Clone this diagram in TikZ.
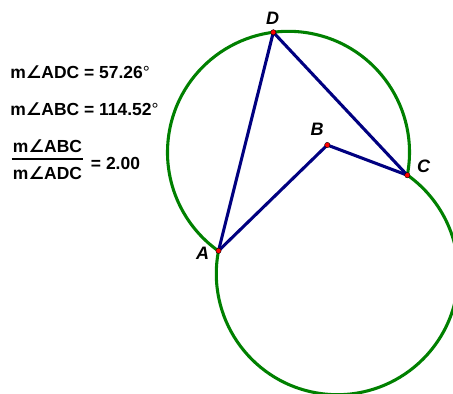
\documentclass[tikz,border=0pt]{standalone}
\usepackage{fontspec}
\setmainfont{Liberation Sans}
\newfontfamily\angfont{DejaVu Sans}
\newcommand{\mang}{m{\angfont\bfseries ∠}}
\definecolor{locusgreen}{RGB}{0,128,0}
\definecolor{segblue}{RGB}{0,0,128}
\begin{document}
\begin{tikzpicture}[
    x=0.75pt,y=0.75pt,
    locus/.style={draw=locusgreen,line width=2.3pt},
    seg/.style={draw=segblue,line width=2.3pt},
    vertex/.style={circle,fill=red,draw=black,line width=0.3pt,inner sep=0pt,minimum size=4pt},
    ptlabel/.style={font=\fontsize{13.5}{15}\selectfont\bfseries\itshape},
    measure/.style={anchor=base west,inner sep=0pt,font=\fontsize{13.1}{15}\selectfont\bfseries}
]
\useasboundingbox (0,0) rectangle (453,-393);

% points of the figure
\coordinate (A) at (218.5,-250.8);
\coordinate (B) at (327.3,-145.0);
\coordinate (C) at (407.3,-175.2);
\coordinate (D) at (273.3,-32.3);

% the two arcs through A and C
\begin{scope}
\clip (0,0) rectangle (453,-393);
\draw[locus] (C) arc[start angle=-10.9,end angle=234.6,radius=90.75pt];
\draw[locus] (A) arc[start angle=169.1,end angle=414.5,radius=90.75pt];
\end{scope}

\draw[seg] (A) -- (D);
\draw[seg] (D) -- (C);
\draw[seg] (A) -- (B);
\draw[seg] (B) -- (C);

\node[vertex] (dotA) at (A) {};
\node[vertex] (dotB) at (B) {};
\node[vertex] (dotC) at (C) {};
\node[vertex] (dotD) at (D) {};

\node[ptlabel] (labA) at (202.5,-253.3) {A};
\node[ptlabel] (labB) at (317.0,-129.7) {B};
\node[ptlabel] (labC) at (423.5,-166.0) {C};
\node[ptlabel] (labD) at (272.5,-18.3)  {D};

% measurements
\node[measure] (adc) at (10,-78.3)  {\mang ADC = 57.26{\mdseries °}};
\node[measure] (abc) at (10,-115.3) {\mang ABC = 114.52{\mdseries °}};
\node[measure,anchor=base] (num) at (47.5,-152.3) {\mang ABC};
\node[measure,anchor=base] (den) at (47.5,-179.3) {\mang ADC};
\draw[line width=1pt] (11.5,-159) -- (83,-159);
\node[measure] (ratio) at (90.7,-169) {= 2.00};
\end{tikzpicture}
\end{document}
